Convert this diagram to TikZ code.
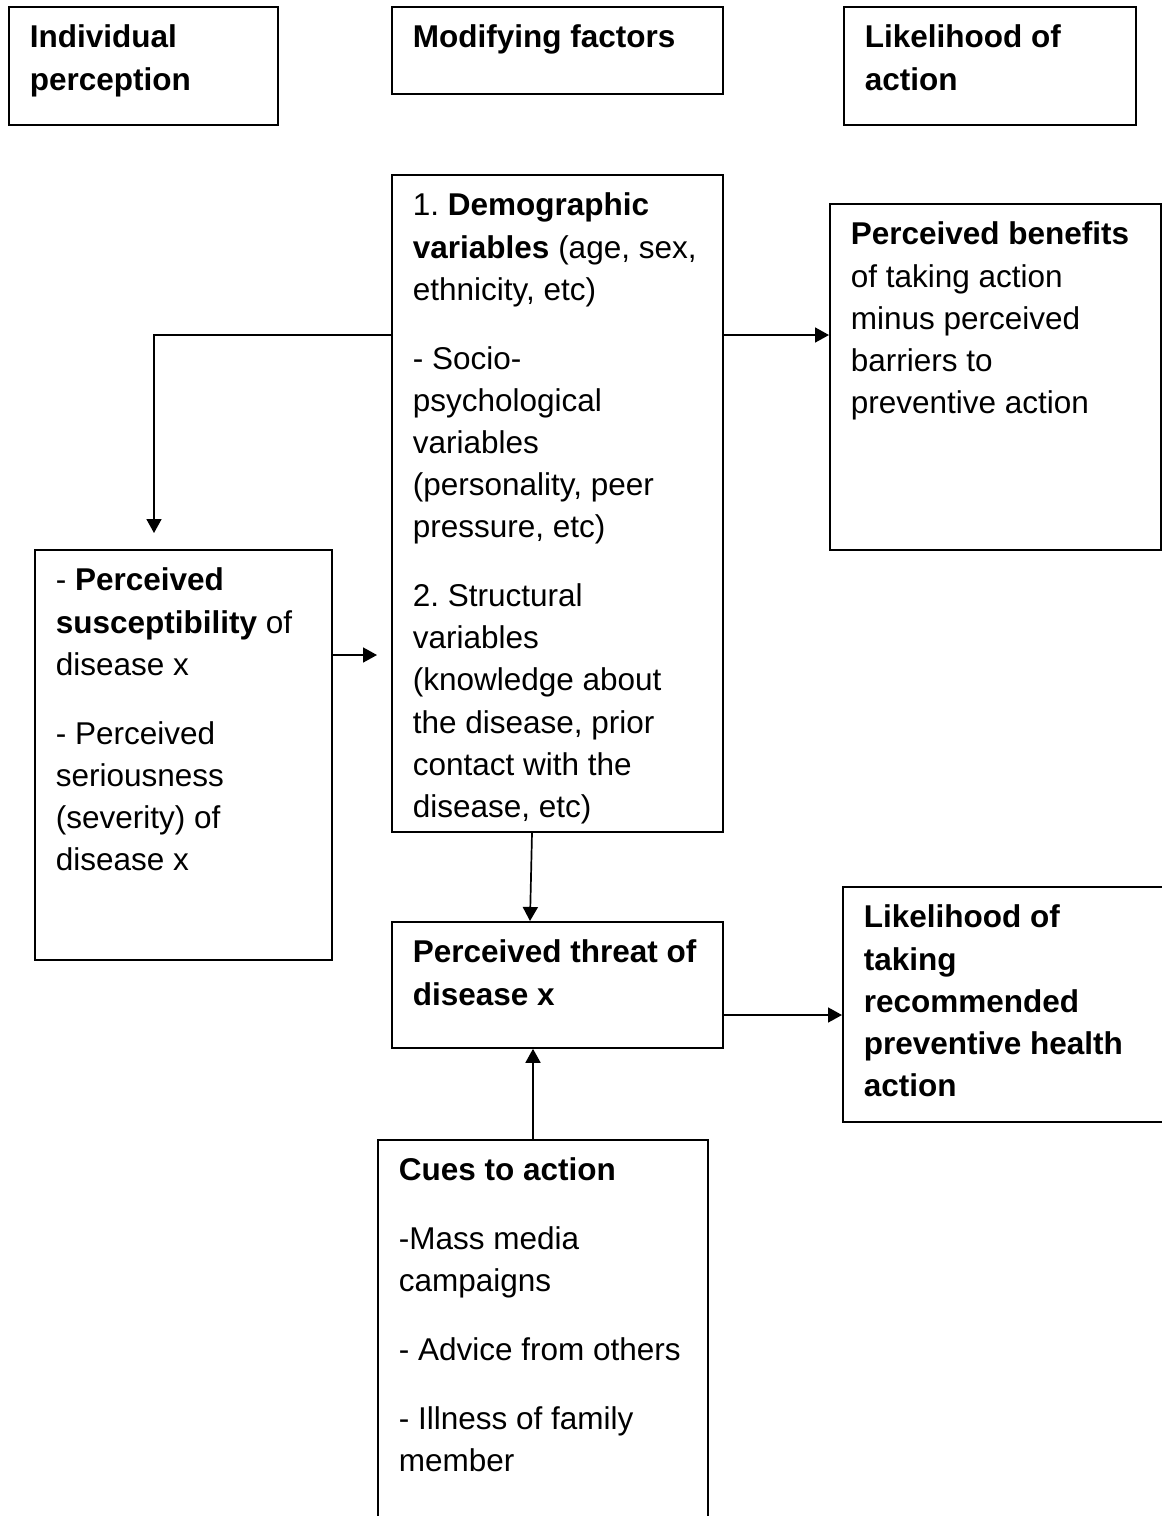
\documentclass[tikz,border=0pt]{standalone}
\usepackage{fontspec}
\setmainfont{Liberation Sans}
\usetikzlibrary{arrows.meta}
\frenchspacing

% box text: width and height of the whole box, then the text
\newcommand{\cellbox}[3]{\parbox[t][\dimexpr #2pt-23pt\relax][t]{\dimexpr #1pt-42pt\relax}{\raggedright\strut #3}}

\tikzset{
  blk/.style={draw, line width=1.8pt, inner xsep=21pt, inner ysep=11.5pt,
    anchor=north west, font={\fontsize{31.5}{42.2}\selectfont}},
  arr/.style={line width=1.7pt, -{Triangle[length=14pt,width=15pt]}}
}

\begin{document}
\begin{tikzpicture}[x=1pt,y=-1pt]
    \useasboundingbox (0,0) rectangle (1162,1516);
    \clip (0,0) rectangle (1162,1516);

    % headings
    \node[blk] (indiv) at (8,6) {\cellbox{269}{118}{\textbf{Individual\\perception}}};
    \node[blk] (modf) at (391,6) {\cellbox{331}{87}{\textbf{Modifying factors}}};
    \node[blk] (likely) at (843,6) {\cellbox{292}{118}{\textbf{Likelihood of\\action}}};

    % boxes
    \node[blk] (mod) at (391,174) {\cellbox{331}{657}{1. \textbf{Demographic}\\
        \textbf{variables} (age, sex,\\ethnicity, etc)\\[26.5pt]
        - Socio-\\psychological\\variables\\(personality, peer\\pressure, etc)\\[26.5pt]
        2. Structural\\variables\\(knowledge about\\the disease, prior\\contact with the\\disease, etc)}};
    \node[blk] (ben) at (829,203) {\cellbox{331}{346}{\textbf{Perceived benefits}\\
        of taking action\\minus perceived\\barriers to\\preventive action}};
    \node[blk] (sus) at (34,549) {\cellbox{297}{410}{- \textbf{Perceived}\\
        \textbf{susceptibility} of\\disease x\\[26.5pt]
        - Perceived\\seriousness\\(severity) of\\disease x}};
    \node[blk] (thr) at (391,921) {\cellbox{331}{126}{\textbf{Perceived threat of\\disease x}}};
    \node[blk] (act) at (842,886) {\cellbox{338}{235}{\textbf{Likelihood of\\taking\\recommended\\preventive health\\action}}};
    \node[blk] (cues) at (377,1139) {\cellbox{330}{401}{\textbf{Cues to action}\\[26.5pt]
        -Mass media\\campaigns\\[26.5pt]
        - Advice from others\\[26.5pt]
        - Illness of family\\member}};

    % connectors
    \coordinate (rowtop) at (154,335);
    \coordinate (rowsus) at (0,655);
    \coordinate (rowthr) at (0,1015);
    \coordinate (xmodout) at (532,0);
    \coordinate (xthrin) at (530,0);
    \coordinate (xcues) at (533,0);

    \draw[arr] (mod.west |- rowtop) -| ([yshift=16pt]sus.north -| rowtop);
    \draw[arr] (mod.east |- rowtop) -- (ben.west |- rowtop);
    \draw[arr] (sus.east |- rowsus) -- ([xshift=-14pt]mod.west |- rowsus);
    \draw[arr] (mod.south -| xmodout) -- (thr.north -| xthrin);
    \draw[arr] (thr.east |- rowthr) -- (act.west |- rowthr);
    \draw[arr] (cues.north -| xcues) -- (thr.south -| xcues);
\end{tikzpicture}
\end{document}
